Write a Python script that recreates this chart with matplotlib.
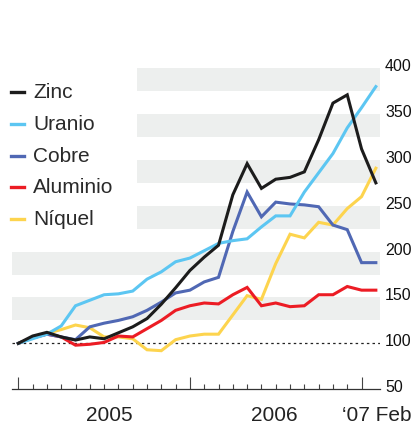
import matplotlib.pyplot as plt
import matplotlib.transforms as mtransforms
from matplotlib.lines import Line2D

# meses desde enero 2005 (0 = ene 2005, 25 = feb 2007), indice ene 2005 = 100
meses = list(range(26))

zinc = [100, 108, 112, 107, 103.6, 107, 105, 111.5, 118, 127, 142.7, 160.6, 179.5,
        194, 207, 262, 296, 269, 279, 281, 287, 322, 362, 371, 312, 275]
uranio = [100, 105, 110, 119, 141, 147, 153, 154, 157, 170, 178, 189, 193,
          201, 209, 212, 214, 227, 239, 239, 265, 286, 307, 335, 357, 380]
cobre = [100, 106, 110, 107, 104, 118, 122, 125, 129, 136, 145, 155, 158,
         167, 172, 222, 265, 238, 254, 252, 251, 249, 229, 224, 188, 188]
aluminio = [100, 106, 110, 107, 98, 99, 101, 108, 107, 116, 125, 136, 141,
            144, 143, 153, 161, 141, 144, 140, 141, 153, 153, 162, 158, 158]
niquel = [100, 106, 111, 115, 120, 117, 107, 107, 105, 93, 92, 104, 108,
          110, 110, 131, 152, 148, 187, 219, 215, 232, 229, 247, 260, 291]

nombres = ["Zinc", "Uranio", "Cobre", "Aluminio", "Níquel"]
series = [zinc, uranio, cobre, aluminio, niquel]
colores = ["#1c1c1c", "#5cc6f2", "#5068b4", "#ec1c24", "#fdd44e"]

yticks = [50, 100, 150, 200, 250, 300, 350, 400]
anios = ["2005", "2006"]

plt.rcParams['font.family'] = ['Liberation Sans', 'DejaVu Sans']

fig = plt.figure(figsize=(4.12, 4.23), dpi=100)
ax = fig.add_axes([12 / 412, (423 - 389.2) / 423, 368 / 412, 370 * 0.917 / 423])
ax.set_xlim(-0.44, 25.29)
ax.set_ylim(50, 420)

# bandas grises (las de arriba quedan cortadas por la leyenda)
for y0 in [125, 175, 225, 275, 325, 375]:
    xmin = 0 if y0 < 220 else 0.34
    ax.axhspan(y0, y0 + 25, xmin=xmin, xmax=1, color="#edefee", lw=0, zorder=0)

ax.axhline(100, color="#222222", lw=0.9, ls=(0, (2, 2.5)), zorder=1)

for i in range(len(series) - 1, -1, -1):
    ax.plot(meses, series[i], color=colores[i], lw=2.2, zorder=2 + (len(series) - i),
            solid_joinstyle="miter")

for s in ["top", "left", "right"]:
    ax.spines[s].set_visible(False)
ax.spines["bottom"].set_color("#333333")
ax.spines["bottom"].set_linewidth(0.9)

ax.set_xticks([0, 12, 24])
ax.set_xticks(range(25), minor=True)
ax.tick_params(axis="x", which="major", direction="in", length=8.5, width=0.8,
               color="#444444", labelbottom=False)
ax.tick_params(axis="x", which="minor", direction="in", length=3.8, width=0.8,
               color="#444444")

ax.yaxis.tick_right()
ax.set_yticks(yticks)
ax.set_yticklabels([str(v) for v in yticks])
ax.tick_params(axis="y", length=0, pad=3.6, labelsize=11.5, labelcolor="#111111")
desplaza = mtransforms.ScaledTranslation(0, 3 / 100, fig.dpi_scale_trans)
for lab in ax.get_yticklabels():
    lab.set_transform(lab.get_transform() + desplaza)

# etiquetas de años
fig.text(109 / 412, 1 - 415 / 423, anios[0], ha="center", va="center",
         fontsize=15, color="#222222")
fig.text(274 / 412, 1 - 415 / 423, anios[1], ha="center", va="center",
         fontsize=15, color="#222222")
fig.text(411 / 412, 1 - 415 / 423, "\u201807 Feb", ha="right", va="center",
         fontsize=15, color="#222222")

# leyenda manual
ys = [92, 124, 156, 187, 219]
for nombre, color, y in zip(nombres, colores, ys):
    yf = 1 - y / 423
    fig.add_artist(Line2D([11 / 412, 24 / 412], [yf, yf], color=color, lw=2.4))
    fig.text(33 / 412, yf, nombre, ha="left", va="center", fontsize=15, color="#2a2a2a")

fig.savefig("out.png", dpi=100)
